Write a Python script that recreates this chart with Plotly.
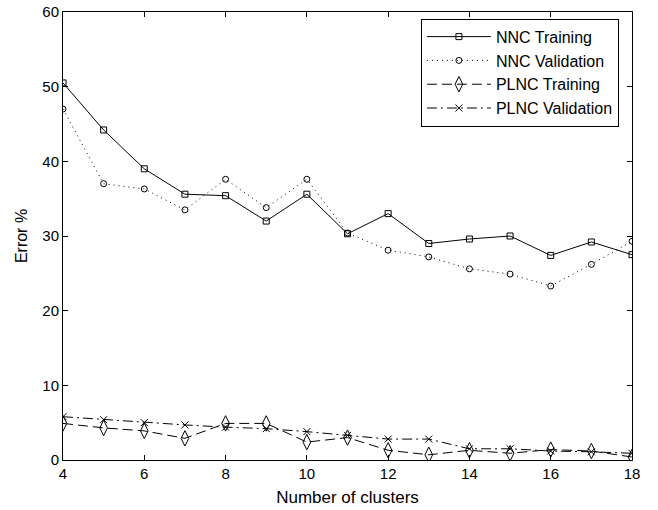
import plotly.graph_objects as go

clusters = [4, 5, 6, 7, 8, 9, 10, 11, 12, 13, 14, 15, 16, 17, 18]
nnc_training = [50.5, 44.2, 39.0, 35.6, 35.4, 32.0, 35.6, 30.3, 33.0, 29.0, 29.6, 30.0, 27.4, 29.2, 27.5]
nnc_validation = [47.0, 37.0, 36.3, 33.5, 37.6, 33.8, 37.6, 30.4, 28.1, 27.2, 25.6, 24.9, 23.3, 26.2, 29.3]
plnc_training = [4.9, 4.3, 3.9, 2.9, 4.9, 4.9, 2.4, 3.0, 1.3, 0.7, 1.3, 0.9, 1.4, 1.2, 0.4]
plnc_validation = [5.8, 5.4, 5.0, 4.7, 4.4, 4.2, 3.8, 3.3, 2.8, 2.8, 1.5, 1.5, 1.2, 1.1, 0.9]

font = "Liberation Sans, Arial, sans-serif"

fig = go.Figure()
fig.add_trace(go.Scatter(x=clusters, y=nnc_training, name="NNC Training", mode="lines+markers",
                         line=dict(color="black", width=1, dash="solid"),
                         marker=dict(symbol="square-open", size=6, color="black", line=dict(width=1))))
fig.add_trace(go.Scatter(x=clusters, y=nnc_validation, name="NNC Validation", mode="lines+markers",
                         line=dict(color="black", width=1, dash="1px,4px"),
                         marker=dict(symbol="circle-open", size=6, color="black", line=dict(width=1))))
fig.add_trace(go.Scatter(x=clusters, y=plnc_training, name="PLNC Training", mode="lines+markers",
                         line=dict(color="black", width=1, dash="10px,5px"),
                         marker=dict(symbol="diamond-tall-open", size=11, color="black", line=dict(width=1))))
fig.add_trace(go.Scatter(x=clusters, y=plnc_validation, name="PLNC Validation", mode="lines+markers",
                         line=dict(color="black", width=1, dash="10px,4px,2px,4px"),
                         marker=dict(symbol="x-thin-open", size=7, color="black", line=dict(width=1))))

axis_common = dict(showline=True, linecolor="black", linewidth=1, mirror="ticks",
                   ticks="inside", ticklen=5, tickcolor="black", showgrid=False, zeroline=False,
                   automargin=False,
                   tickfont=dict(family=font, size=15, color="black"))

fig.update_layout(
    width=658, height=510,
    margin=dict(l=63, r=26, t=12, b=50),
    paper_bgcolor="white", plot_bgcolor="white",
    font=dict(family=font, size=16, color="black"),
    xaxis=dict(range=[4, 18], tickvals=[4, 6, 8, 10, 12, 14, 16, 18],
               title=dict(text="Number of clusters", font=dict(size=17), standoff=10), **axis_common),
    yaxis=dict(range=[0, 60], tickvals=[0, 10, 20, 30, 40, 50, 60],
               title=dict(text="Error %", font=dict(size=16), standoff=10), **axis_common),
    legend=dict(x=0.977, y=0.985, xanchor="right", yanchor="top", bgcolor="white",
                bordercolor="black", borderwidth=1, font=dict(family=font, size=16),
                itemwidth=64, tracegroupgap=0),
    showlegend=True,
)

fig.write_html("out.html")
